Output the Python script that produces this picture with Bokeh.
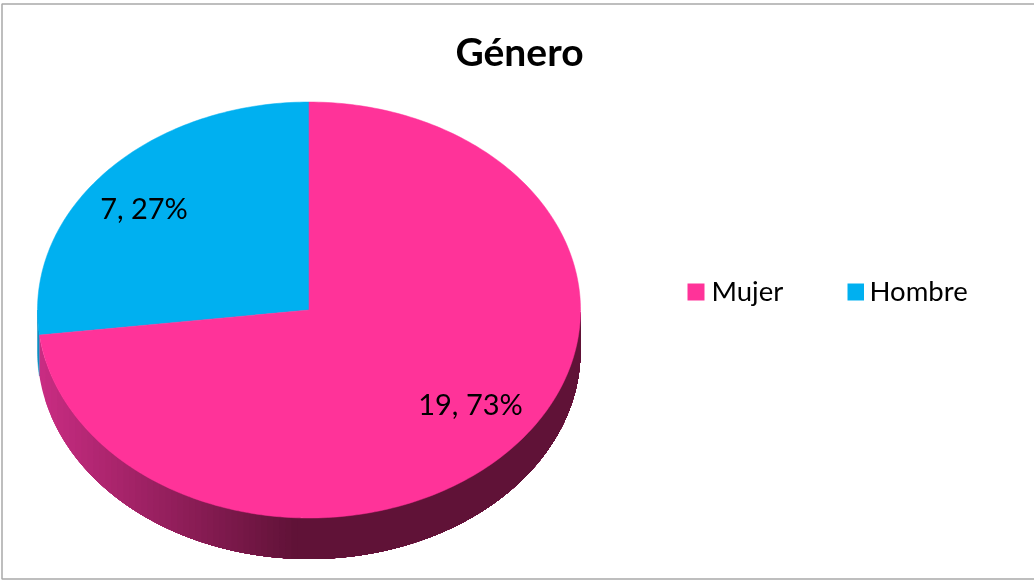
import math
from bokeh.plotting import figure
from bokeh.models import Range1d
from bokeh.core.properties import value
from bokeh.embed import file_html
from bokeh.resources import INLINE

title = "Género"
categories = ["Mujer", "Hombre"]
counts = [19, 7]
percents = [73, 27]
colors = ["#FF3399", "#00B0F0"]

W, H = 1034, 580
CX, CY, RX, RY, DEPTH = 308.5, 309.5, 271.5, 208, 41
FONT = "Lato"

p = figure(width=W, height=H, output_backend="svg", toolbar_location=None,
           x_range=Range1d(0, W), y_range=Range1d(H, 0), min_border=0,
           x_axis_location=None, y_axis_location=None, outline_line_color=None,
           background_fill_color="white", border_fill_color="white")
p.styles = {"position": "fixed", "left": "0px", "top": "0px"}
p.grid.visible = False

# chart frame
p.quad(left=[1.5], right=[W + 5], top=[3.5], bottom=[578.5], fill_color=None,
       line_color="#A9A9A9", line_width=1.5)

total = sum(counts)
def pt(deg):
    a = math.radians(deg)
    return CX + RX * math.cos(a), CY + RY * math.sin(a)   # y grows downward

# clockwise from top: angle = -90 + 360*fraction on a y-down axis
split = -90 + 360 * counts[0] / total

def mix(c1, c2, t):
    return "#%02x%02x%02x" % tuple(round(a + (b - a) * t) for a, b in zip(c1, c2))

def wall(a_from, a_to):
    n = max(2, int(abs(a_to - a_from) * 2))
    angs = [a_from + (a_to - a_from) * i / n for i in range(n + 1)]
    top = [pt(a) for a in angs]
    xs = [q[0] for q in top] + [q[0] for q in reversed(top)]
    ys = [q[1] for q in top] + [q[1] + DEPTH for q in reversed(top)]
    return xs, ys

# blue part of the wall
bx, by = wall(split, 180)
p.patch(bx, by, fill_color="#0B8FC2", line_color="#0B8FC2", line_width=0.5)

# pink wall: overlapping bands painted left to right, each reaching the right edge,
# so that the horizontal gradient has no seams
wx, wy, wc = [], [], []
BAND = 6
xb = pt(split)[0]
while xb < CX + RX:
    t = min(max((xb - 38) / (292 - 38), 0), 1)
    ang = math.degrees(math.acos(max(-1, min(1, (xb - CX) / RX))))
    ang = min(ang, split)
    xs, ys = wall(0, ang)
    wx.append(xs)
    wy.append(ys)
    wc.append(mix((200, 44, 130), (96, 18, 55), t))
    xb += BAND
    if t >= 1:
        break
p.patches(xs=wx, ys=wy, fill_color=wc, line_color=None)

# top faces
def wedge(start, end):
    n = max(2, int(abs(end - start)))
    xs, ys = [CX], [CY]
    for i in range(n + 1):
        x, y = pt(start + (end - start) * i / n)
        xs.append(x)
        ys.append(y)
    return xs, ys

x0, y0 = wedge(-90, split)
x1, y1 = wedge(split, 270)
p.patches(xs=[x1, x0], ys=[y1, y0], fill_color=[colors[1], colors[0]],
          line_color=[colors[1], colors[0]], line_width=0.5)

# title
p.text(x=[519], y=[50.5], text=[title], text_font=value(FONT), text_font_style="bold",
       text_font_size="39px", text_align="center", text_baseline="middle", text_color="black")

# data labels
labels = [f"{c}, {q}%" for c, q in zip(counts, percents)]
p.text(x=[470, 143.5], y=[402.5, 206.5], text=labels, text_font=value(FONT),
       text_font_size="29px", text_align="center", text_baseline="middle", text_color="black")

# legend
p.quad(left=[687, 847], right=[704, 863.5], top=[283, 283], bottom=[300, 300],
       fill_color=colors, line_color=None)
p.text(x=[711, 869], y=[289.5, 289.5], text=categories, text_font=value(FONT),
       text_font_size="27.5px", text_align="left", text_baseline="middle", text_color="black")

open("out.html", "w").write(file_html(p, INLINE))
